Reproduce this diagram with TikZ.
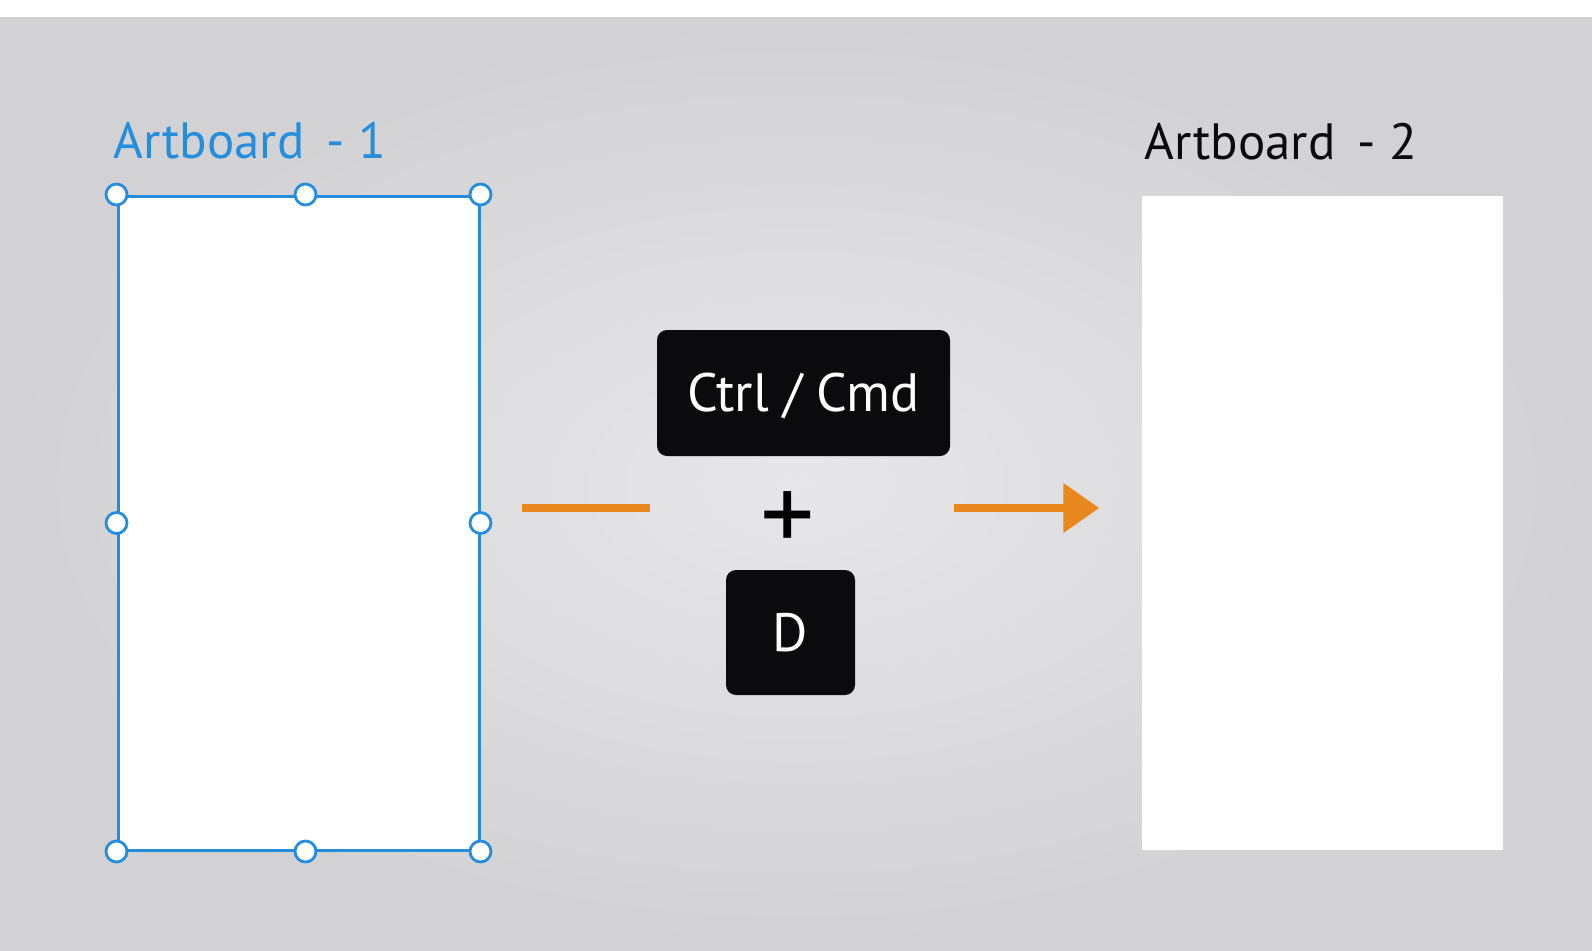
\documentclass[tikz,border=0pt]{standalone}
\usepackage{fontspec}
\setmainfont{PT Sans}
\usetikzlibrary{positioning,arrows.meta}
\definecolor{xdblue}{RGB}{36,141,222}
\definecolor{xdorange}{RGB}{232,136,30}
\definecolor{keyblack}{RGB}{11,11,13}
\definecolor{bglight}{RGB}{231,231,233}
\definecolor{bgdark}{RGB}{210,210,213}
\tikzset{%
	board/.style={%
		rectangle,
		fill=white,
		minimum width=361pt,
		minimum height=654pt,
		inner sep=0pt
	},
	handle/.style={circle, draw=xdblue, fill=white, line width=2.8pt, minimum size=21pt, inner sep=0pt},
	title/.style={font=\fontsize{51}{60}\selectfont, inner sep=0pt},
	key/.style={fill=keyblack, text=white, rounded corners=10pt, font=\fontsize{54}{64}\selectfont, inner sep=0pt, text height=37pt, text depth=0pt},
	flow/.style={draw=xdorange, line width=8pt}
}
\begin{document}
\begin{tikzpicture}[x=1pt, y=-1pt]
    \useasboundingbox (0,0) rectangle (1592,950);
    \fill[white] (0,0) rectangle (1592,18);
    \shade[inner color=bglight, outer color=bgdark] (0,18) rectangle (1592,950);
    \node [board, draw=xdblue, line width=3pt] (ab1) at (298.5,523) {};
    \node [board] (ab2) at (1322,523) {};
    \node [title, text=xdblue, above right=36pt and -3pt of ab1.north west, anchor=base west] (lab1) {Artboard\hspace{8pt} - 1};
    \node [title, text=keyblack, above right=36pt and 3pt of ab2.north west, anchor=base west] (lab2) {Artboard\hspace{8pt} - 2};
    \foreach \a/\n in {north west/nw, north east/ne, west/w, east/e, south west/sw, south east/se}
        \node [handle] (h\n) at (ab1.\a) {};
    \node [handle] (hn) at ([xshift=7pt]ab1.north) {};
    \node [handle] (hs) at ([xshift=7pt]ab1.south) {};
    \node [key, minimum width=293pt, minimum height=126pt] (ctrl) at (803.5,393) {Ctrl / Cmd};
    \node [font=\fontsize{108}{108}\selectfont, inner sep=0pt] (plus) at (788,522) {+};
    \node [key, minimum width=129pt, minimum height=125pt] (dkey) at (790.5,632.5) {D};
    \coordinate (outA) at ([xshift=41pt,yshift=15pt]ab1.east);
    \coordinate (inA) at ([xshift=-7pt]ctrl.west |- outA);
    \coordinate (outB) at ([xshift=4pt]ctrl.east |- outA);
    \coordinate (inB) at ([xshift=-42pt]ab2.west |- outA);
    \draw [flow] (outA) -- (inA);
    \draw [flow, -{Triangle[length=36pt, width=48pt]}] (outB) -- (inB);
\end{tikzpicture}
\end{document}
